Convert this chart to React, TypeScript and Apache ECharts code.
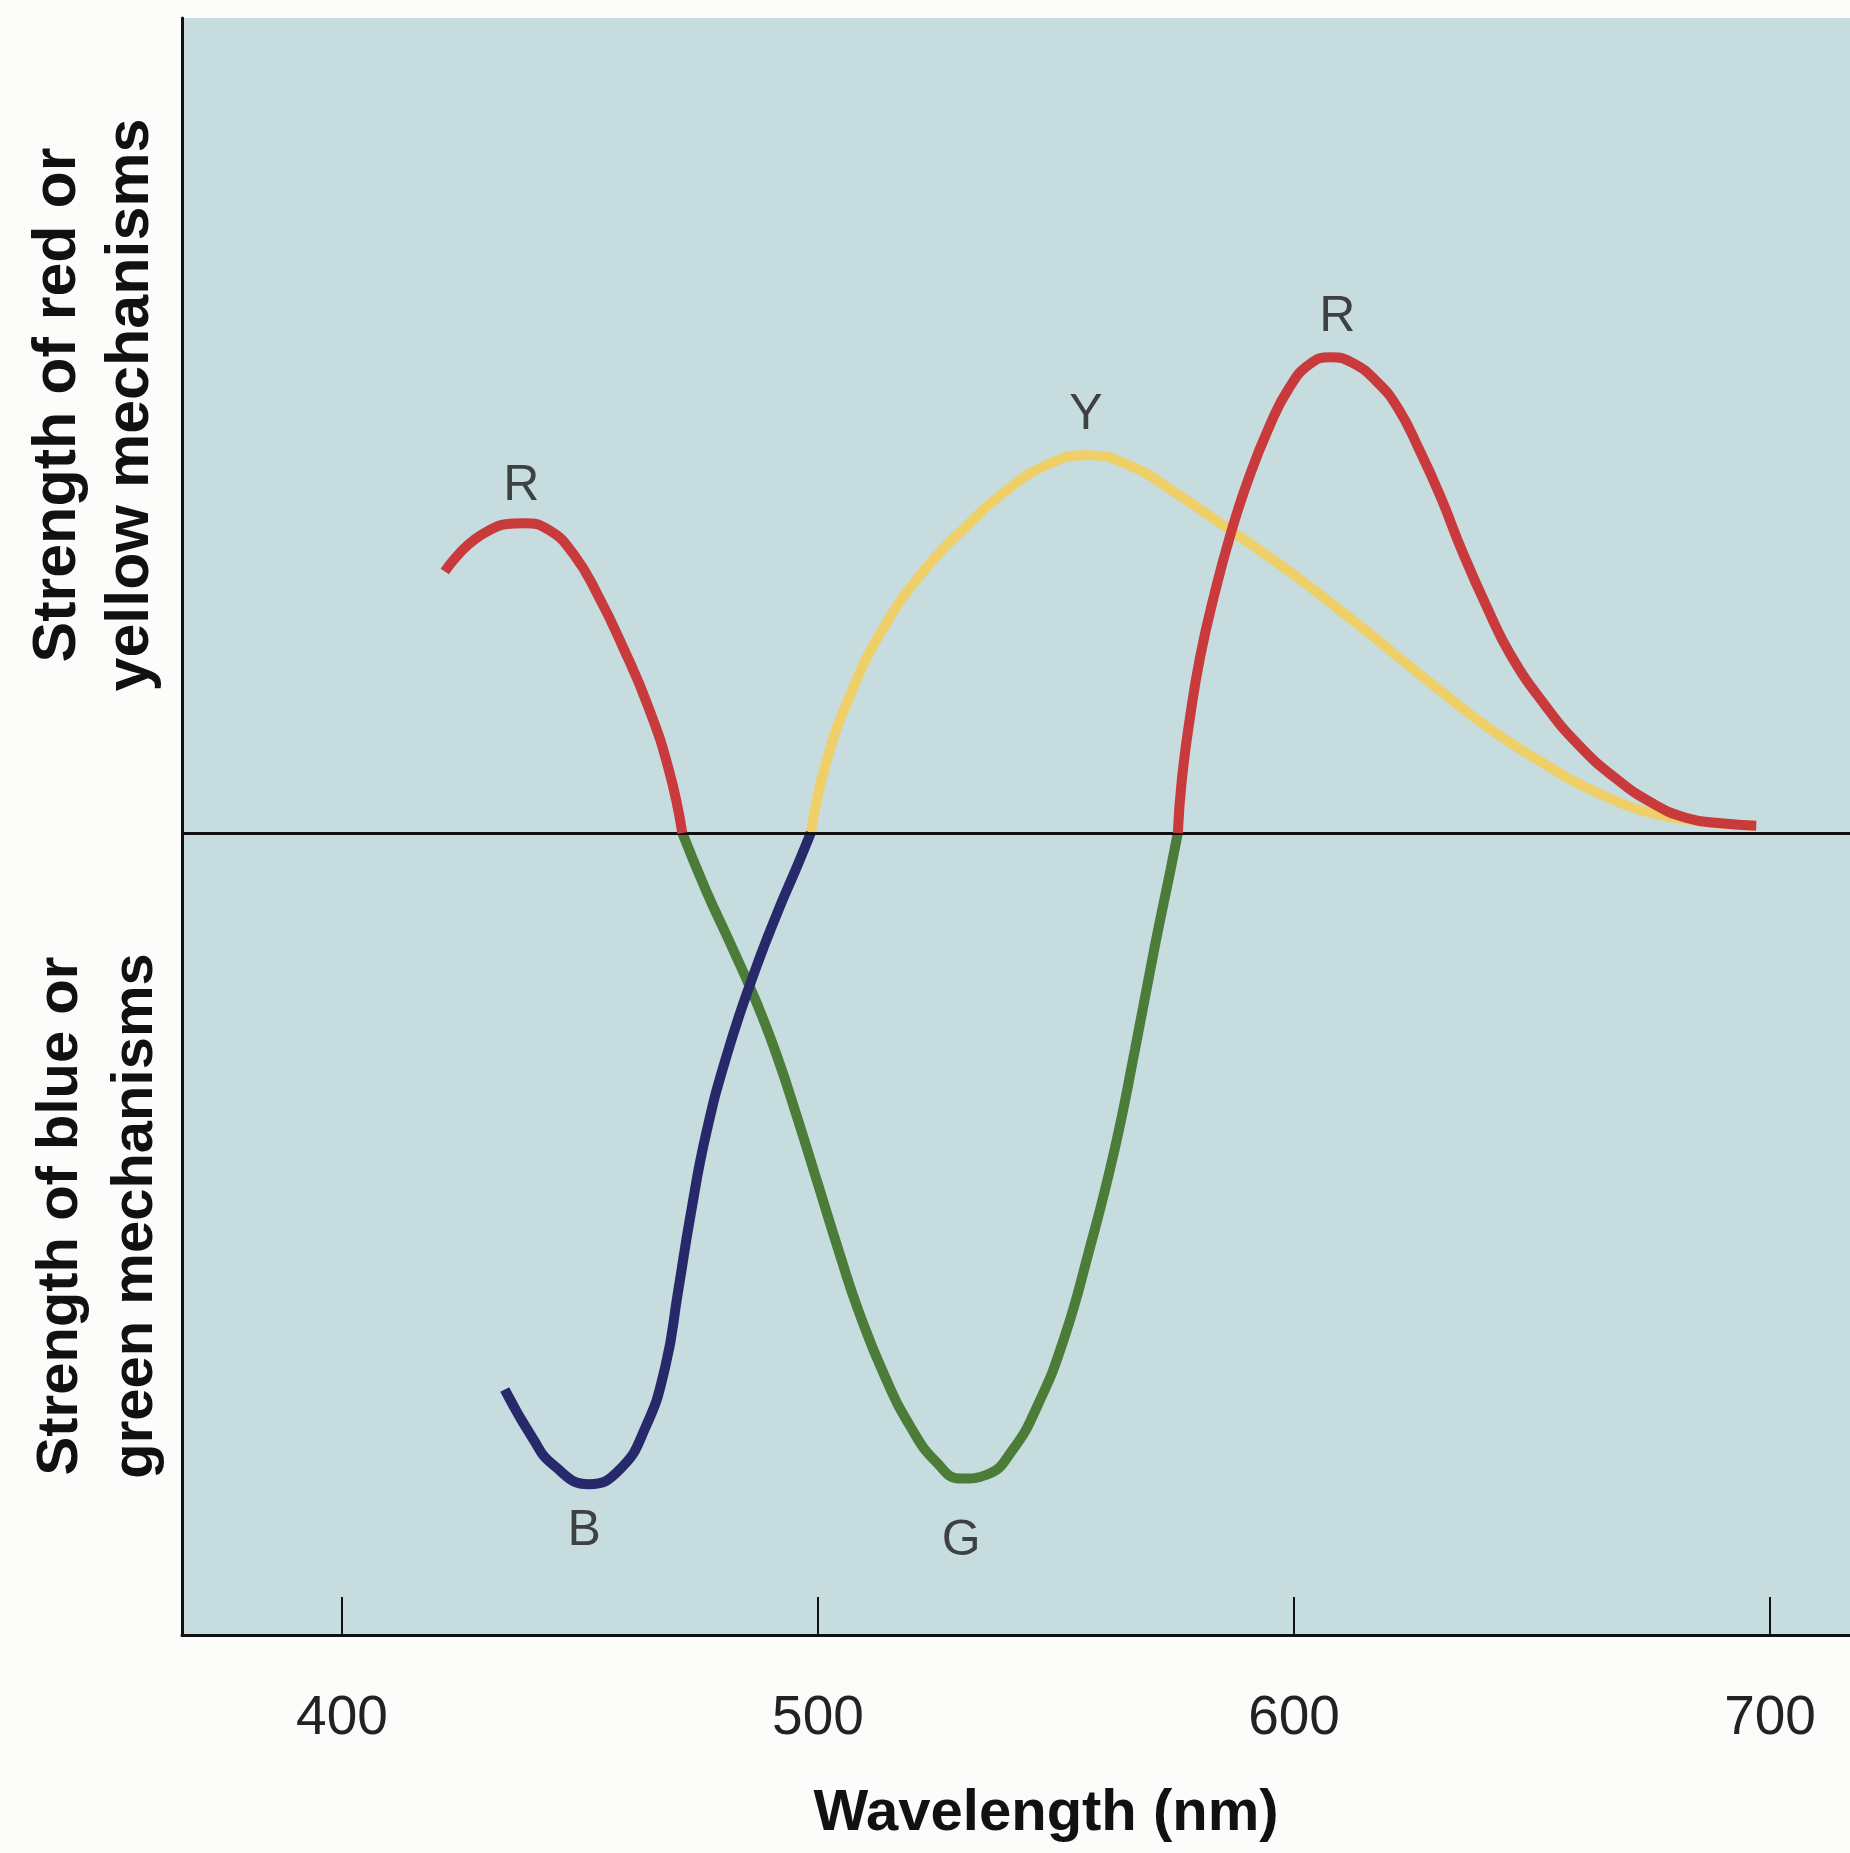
import React, { useEffect, useRef } from "react";
import * as echarts from "echarts";

// ---- Data (wavelength in nm, strength in arbitrary units; + = red/yellow, - = blue/green) ----
const xTicks = [400, 500, 600, 700];

const red1Nm = [421.6, 429.4, 438.2, 443.4, 448.6, 453.8, 459.0, 464.3, 468.7, 471.5];
const red1Val = [32.6, 37.2, 38.6, 37.8, 34.8, 29.6, 23.2, 15.8, 7.8, 0];

const greenNm = [471.5, 476.5, 481.9, 487.2, 491.5, 495.8, 500.1, 504.4, 508.7, 514.0, 519.4, 524.8, 530.1, 535.5, 540.8, 546.2, 551.6, 556.9, 562.3, 566.6, 570.8, 574.1, 575.6];
const greenVal = [0, -7.2, -14.2, -21.3, -28.0, -35.8, -44.0, -52.2, -59.9, -67.7, -74.0, -78.4, -80.5, -80.0, -77.0, -71.3, -63.2, -52.2, -39.5, -27.0, -14.0, -4.5, 0];

const blueNm = [434.2, 440.1, 444.4, 451.9, 458.3, 463.7, 467.9, 470.6, 473.3, 476.5, 480.8, 486.2, 491.5, 495.8, 498.5];
const blueVal = [-69.4, -75.5, -78.8, -81.2, -79.4, -74.2, -66.6, -57.2, -47.4, -37.5, -27.8, -18.1, -9.9, -3.9, 0];

const yellowNm = [498.5, 501.5, 506.7, 513.7, 522.4, 531.1, 539.8, 548.5, 556.3, 565.9, 574.6, 583.3, 592.1, 601.3, 608.7, 616.0, 623.4, 630.8, 638.1, 645.5, 652.9, 660.2, 667.6, 673.5, 683, 691, 697];
const yellowVal = [0, 8.3, 17.1, 25.5, 32.8, 38.2, 42.8, 46.0, 47.1, 45.7, 42.6, 39.1, 35.5, 31.6, 28.2, 24.8, 21.2, 17.7, 14.3, 11.2, 8.5, 6.0, 4.0, 2.7, 1.6, 1.1, 0.9];

const red2Nm = [575.6, 576.4, 578.1, 580.3, 583.3, 586.8, 590.3, 594.7, 599.0, 603.4, 607.7, 612.3, 617.5, 621.9, 626.3, 630.8, 635.2, 640.4, 645.5, 652.9, 660.2, 667.6, 675.0, 682.3, 689.7, 697.1];
const red2Val = [0, 6.4, 14.2, 22.0, 29.8, 37.5, 43.9, 50.5, 55.5, 58.5, 59.3, 58.6, 56.2, 52.9, 47.8, 41.9, 35.3, 28.3, 22.2, 15.8, 10.7, 6.8, 3.8, 1.9, 1.2, 0.9];

const curveLabels = ["R", "Y", "R", "B", "G"];
const labelNm = [437.7, 556.3, 609.1, 450.9, 530.1];
const labelVal = [43.6, 52.5, 64.7, -86.7, -87.9];

const yTitleTop = "Strength of red or\nyellow mechanisms";
const yTitleBottom = "Strength of blue or\ngreen mechanisms";
const xTitle = "Wavelength (nm)";

const zip = (a: number[], b: number[]) => a.map((x, i) => [x, b[i]]);

export default function App() {
  const ref = useRef<HTMLDivElement>(null);

  useEffect(() => {
    if (!ref.current) return;
    const chart = echarts.init(ref.current, null, { renderer: "svg" });

    const lineSeries = (name: string, nm: number[], val: number[], color: string, z: number) => ({
      type: "line",
      name,
      data: zip(nm, val),
      smooth: 0.5,
      symbol: "none",
      showSymbol: false,
      silent: true,
      z,
      lineStyle: { color, width: 10 },
    });

    chart.setOption({
      animation: false,
      backgroundColor: "#fcfcfb",
      grid: {
        left: 182,
        right: 0,
        top: 18,
        bottom: 218,
        show: true,
        backgroundColor: "#c6dcdf",
        borderWidth: 0,
      },
      xAxis: {
        type: "value",
        min: 366.4,
        max: 716.8,
        axisLine: { show: true, onZero: false, lineStyle: { color: "#111", width: 3 } },
        axisTick: {
          show: true,
          inside: true,
          length: 38,
          customValues: xTicks,
          lineStyle: { color: "#111", width: 2 },
        },
        axisLabel: {
          show: true,
          customValues: xTicks,
          fontSize: 55,
          margin: 52,
          color: "#222",
          fontFamily: "Liberation Sans",
        },
        splitLine: { show: false },
        name: xTitle,
        nameLocation: "middle",
        nameGap: 145,
        nameTextStyle: {
          fontSize: 58,
          fontWeight: "bold",
          color: "#111",
          fontFamily: "Liberation Sans",
          padding: [0, 0, 0, 60],
        },
      },
      yAxis: {
        type: "value",
        min: -100,
        max: 101.6,
        axisLine: { show: true, onZero: false, lineStyle: { color: "#111", width: 3 } },
        axisTick: { show: false },
        axisLabel: { show: false },
        splitLine: { show: false },
      },
      graphic: [
        {
          type: "text",
          x: 90,
          y: 405,
          rotation: Math.PI / 2,
          style: {
            text: yTitleTop,
            fontSize: 61,
            fontWeight: "bold",
            fontFamily: "Liberation Sans",
            fill: "#111",
            align: "center",
            verticalAlign: "middle",
            lineHeight: 73,
          },
        },
        {
          type: "text",
          x: 94,
          y: 1216,
          rotation: Math.PI / 2,
          style: {
            text: yTitleBottom,
            fontSize: 58,
            fontWeight: "bold",
            fontFamily: "Liberation Sans",
            fill: "#111",
            align: "center",
            verticalAlign: "middle",
            lineHeight: 75,
          },
        },
      ],
      series: [
        lineSeries("Y", yellowNm, yellowVal, "#efcf68", 2),
        lineSeries("G", greenNm, greenVal, "#4b7d38", 3),
        lineSeries("B", blueNm, blueVal, "#262a6b", 4),
        lineSeries("R1", red1Nm, red1Val, "#c93a3c", 5),
        lineSeries("R2", red2Nm, red2Val, "#c93a3c", 5),
        {
          type: "scatter",
          name: "labels",
          z: 10,
          silent: true,
          symbolSize: 1,
          itemStyle: { color: "rgba(0,0,0,0)" },
          data: labelNm.map((x, i) => ({ value: [x, labelVal[i]], name: curveLabels[i] })),
          label: {
            show: true,
            position: "inside",
            formatter: "{b}",
            fontSize: 50,
            color: "#1a1a1a",
            fontFamily: "Liberation Sans",
          },
          markLine: {
            silent: true,
            symbol: ["none", "none"],
            label: { show: false },
            lineStyle: { color: "#111", width: 3, type: "solid" },
            data: [{ yAxis: 0 }],
          },
        },
      ],
    });

    return () => chart.dispose();
  }, []);

  return (
    <div
      ref={ref}
      style={{ position: "absolute", left: 0, top: 0, width: 1850, height: 1853 }}
    />
  );
}
